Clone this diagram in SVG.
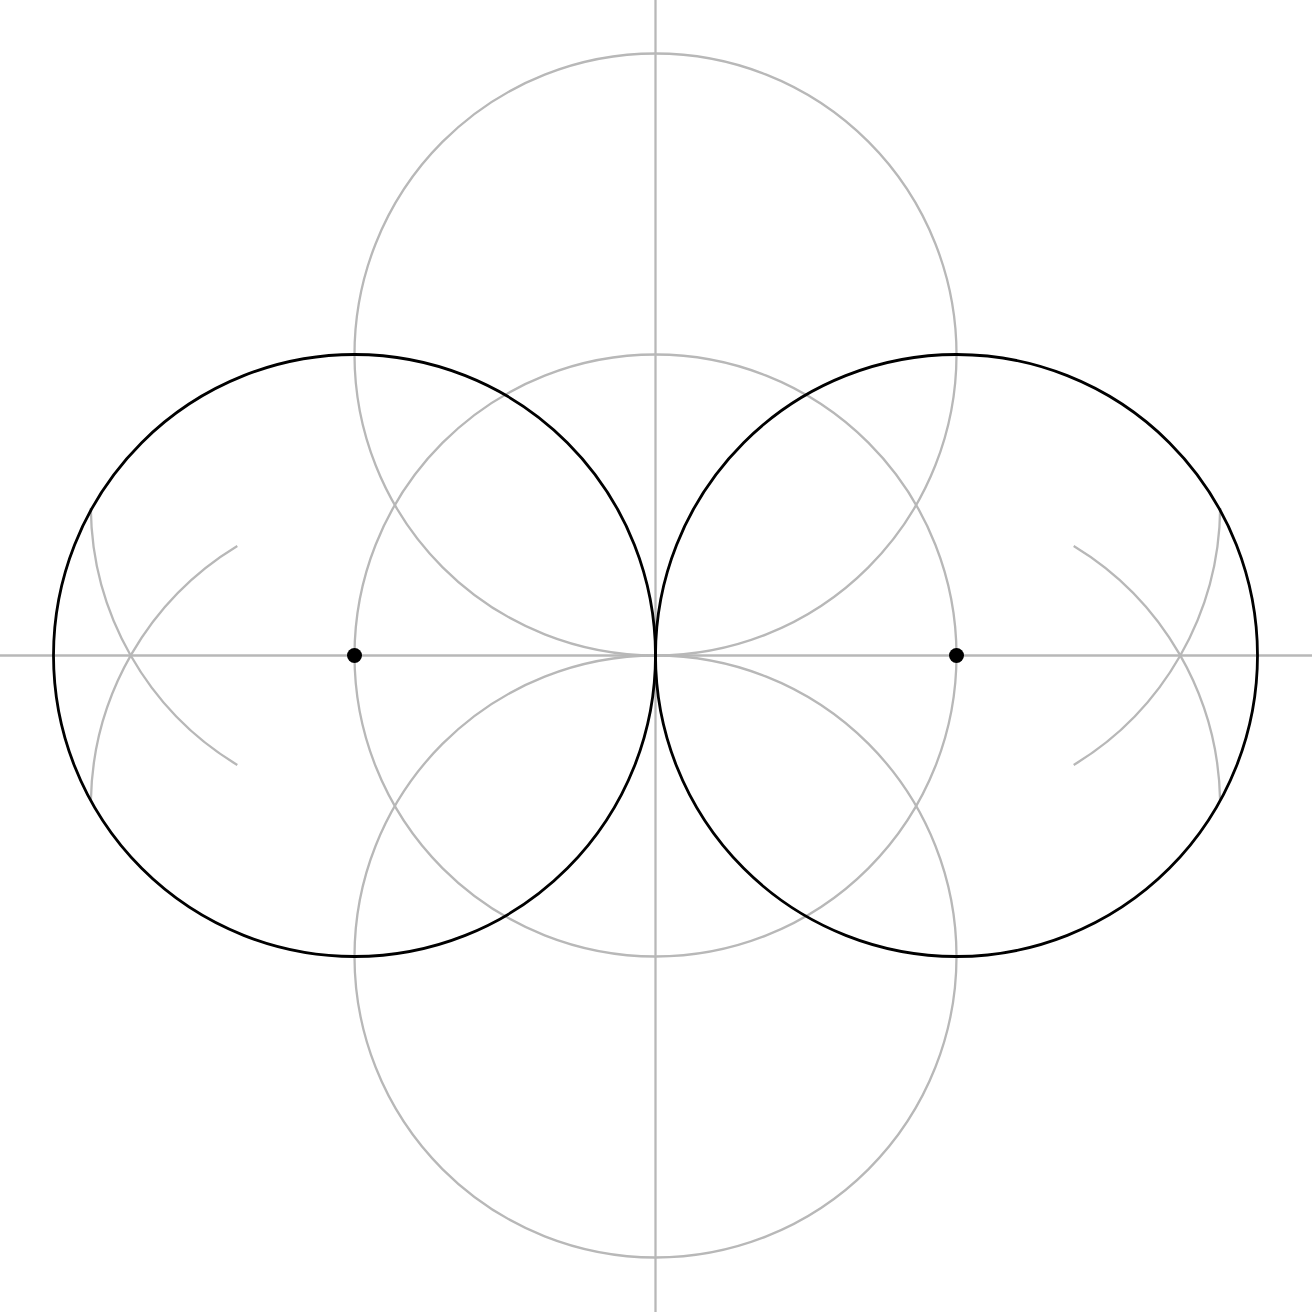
<svg xmlns="http://www.w3.org/2000/svg" width="1312" height="1312" viewBox="0 0 1312 1312">
<style>
.g{fill:none;stroke:#b8b8b8;stroke-width:2.3}
.b{fill:none;stroke:#000000;stroke-width:2.8}
.d{fill:#000000}
</style>
<rect x="0" y="0" width="1312" height="1312" fill="#ffffff"/>
<g id="axes">
<line class="g" x1="0" y1="655.5" x2="1312" y2="655.5"/>
<line class="g" x1="655.5" y1="0" x2="655.5" y2="1312"/>
</g>
<g id="gray-circles">
<circle id="c-top" class="g" cx="655.5" cy="354.5" r="301"/>
<circle id="c-mid" class="g" cx="655.5" cy="655.5" r="301"/>
<circle id="c-bottom" class="g" cx="655.5" cy="956.5" r="301"/>
</g>
<g id="arcs">
<path class="g" d="M 90.8 508 A 304 304 0 0 0 237.3 765"/>
<path class="g" d="M 237.3 546 A 304 304 0 0 0 90.9 800"/>
<path class="g" d="M 1220.2 508 A 304 304 0 0 1 1073.7 765"/>
<path class="g" d="M 1073.7 546 A 304 304 0 0 1 1220.1 800"/>
</g>
<g id="black-circles">
<circle id="c-left" class="b" cx="354.5" cy="655.5" r="301"/>
<circle id="c-right" class="b" cx="956.5" cy="655.5" r="301"/>
</g>
<g id="points">
<circle id="p-left" class="d" cx="354.5" cy="655.5" r="7.5"/>
<circle id="p-right" class="d" cx="956.5" cy="655.5" r="7.5"/>
</g>
</svg>
